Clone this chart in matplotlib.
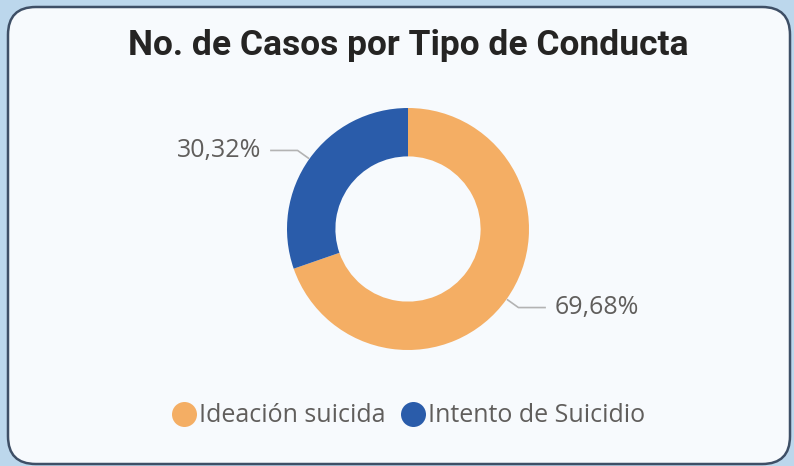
import numpy as np
import matplotlib.pyplot as plt
from matplotlib.patches import FancyBboxPatch
from matplotlib.lines import Line2D

categories = ["Ideación suicida", "Intento de Suicidio"]
values = [69.68, 30.32]
labels = ["69,68%", "30,32%"]
colors = ["#F4AE64", "#2A5CAA"]

W, H = 794, 466
fig = plt.figure(figsize=(W / 100, H / 100), dpi=100)
fig.patch.set_facecolor("#BCD7EC")

# rounded card behind everything
card = FancyBboxPatch((8 / W, 2 / H), 782 / W, 457 / H,
                      boxstyle="round,pad=0,rounding_size=0.035",
                      transform=fig.transFigure, facecolor="#F7FAFD",
                      edgecolor="#3E4F66", linewidth=1.8, mutation_aspect=W / H,
                      zorder=-5)
fig.patches.append(card)

# axes over the whole figure, 1 data unit = outer radius (121 px)
cx, cy, r_px = 408, 229, 121
ax = fig.add_axes([0, 0, 1, 1], zorder=2)
ax.patch.set_alpha(0)

wedges, _ = ax.pie(values, colors=colors, startangle=90, counterclock=False,
                   radius=1, wedgeprops=dict(width=0.4, linewidth=0))
ax.set_xlim(-cx / r_px, (W - cx) / r_px)
ax.set_ylim(-(H - cy) / r_px, cy / r_px)
ax.set_aspect("equal")
ax.axis("off")

for w, lab in zip(wedges, labels):
    mid = np.deg2rad((w.theta1 + w.theta2) / 2)
    x0, y0 = np.cos(mid), np.sin(mid)
    x1, y1 = 1.12 * x0, 1.12 * y0
    s = np.sign(x0)
    x2 = x1 + s * 0.22
    ax.plot([x0 * 1.01, x1, x2], [y0 * 1.01, y1, y1], color="#B3B3B3", lw=1.2)
    ax.text(x2 + s * 0.08, y1, lab, ha="left" if s > 0 else "right",
            va="center", fontsize=18, color="#605E5C", family="Open Sans")

ax.text(0, (cy - 45) / r_px, "No. de Casos por Tipo de Conducta", ha="center",
        va="center", fontsize=25.5, fontweight="bold", color="#252423",
        family="Roboto")

handles = [Line2D([], [], marker="o", ls="none", markersize=18,
                  markerfacecolor=c, markeredgewidth=0) for c in colors]
leg = fig.legend(handles, categories, loc="center", ncol=2,
                 bbox_to_anchor=(407 / W, 1 - 416 / H), frameon=False,
                 handletextpad=0.0, columnspacing=0.5, handlelength=1.2,
                 prop=dict(family="Open Sans", size=18))
for t in leg.get_texts():
    t.set_color("#605E5C")

fig.savefig("out.png", dpi=100, facecolor=fig.get_facecolor())
